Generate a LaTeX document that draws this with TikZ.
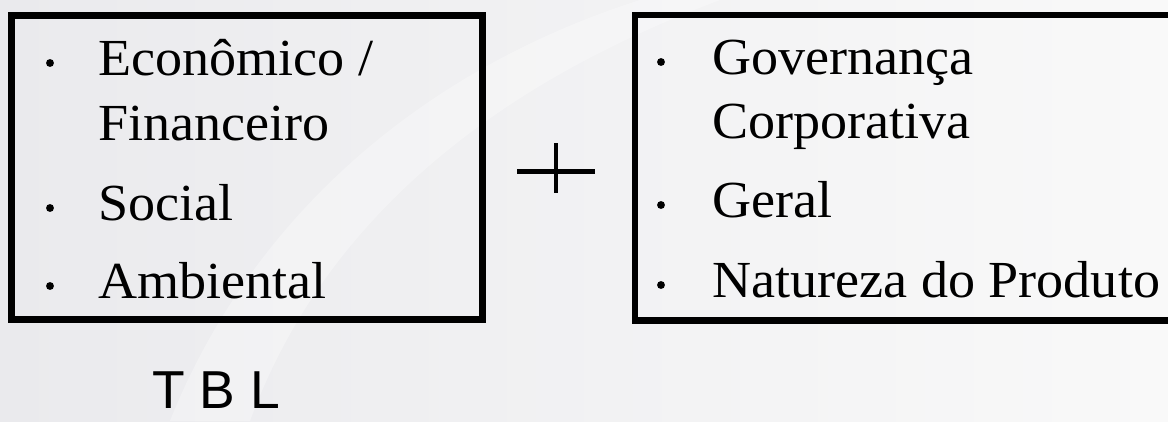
\documentclass[tikz,border=0pt]{standalone}
\usepackage{fontspec}
\setmainfont[FakeStretch=1.04]{Liberation Serif}
\newfontfamily\arialfont{Liberation Sans}
\usetikzlibrary{positioning}
\definecolor{paper}{RGB}{234,234,237}
\definecolor{paperlight}{RGB}{249,249,249}
\tikzset{
  frame/.style={draw=black,line width=4.6pt,inner sep=0pt},
  entry/.style={anchor=base west,inner sep=0pt,font=\fontsize{37}{44}\selectfont},
  dotnode/.style={circle,fill=black,inner sep=0pt,minimum size=5.6pt},
  plusbar/.style={line width=3.3pt,draw=black},
  acronym/.style={anchor=base west,inner sep=0pt,font=\arialfont\fontsize{38}{44}\selectfont},
}

\begin{document}
\begin{tikzpicture}[x=0.025cm,y=-0.025cm]
  \useasboundingbox (0,0) rectangle (1168,421);
  % background
  \shade[left color=paper,right color=paperlight] (0,0) rectangle (1168,421);
  \fill[white,opacity=0.3] (170,421) .. controls (250,220) and (420,70) .. (640,0)
    -- (720,0) .. controls (480,90) and (320,230) .. (250,421) -- cycle;
  % boxes
  \node[frame,minimum width=11.775cm,minimum height=7.6cm] (tbl) at (247,167.5) {};
  \node[frame,minimum width=13.5cm,minimum height=7.64cm] (extra) at (905,167.75) {};
  % left items
  \node[entry] (econ) at (98,75) {Econômico /};
  \node[entry] (fin) at (98,140) {Financeiro};
  \node[entry] (soc) at (98,220) {Social};
  \node[entry] (amb) at (98,298) {Ambiental};
  % right items
  \node[entry] (gov) at (712,74) {Governança};
  \node[entry] (corp) at (712,138) {Corporativa};
  \node[entry] (geral) at (712,217) {Geral};
  \node[entry] (nat) at (712,297) {Natureza do Produto};
  % bullets
  \foreach \x/\y/\n in {50/63/d1,50/208/d2,50/286/d3,661/62/d4,661/205/d5,661/285/d6}
    \node[dotnode] (\n) at (\x,\y) {};
  % plus sign
  \coordinate (plus) at (556,171.5);
  \draw[plusbar] (plus) ++(-39,0) -- ++(78,0);
  \draw[plusbar] (plus) ++(0,-28.5) -- ++(0,50);
  \node[acronym] (tblname) at (152,408) {T B L};
\end{tikzpicture}
\end{document}
